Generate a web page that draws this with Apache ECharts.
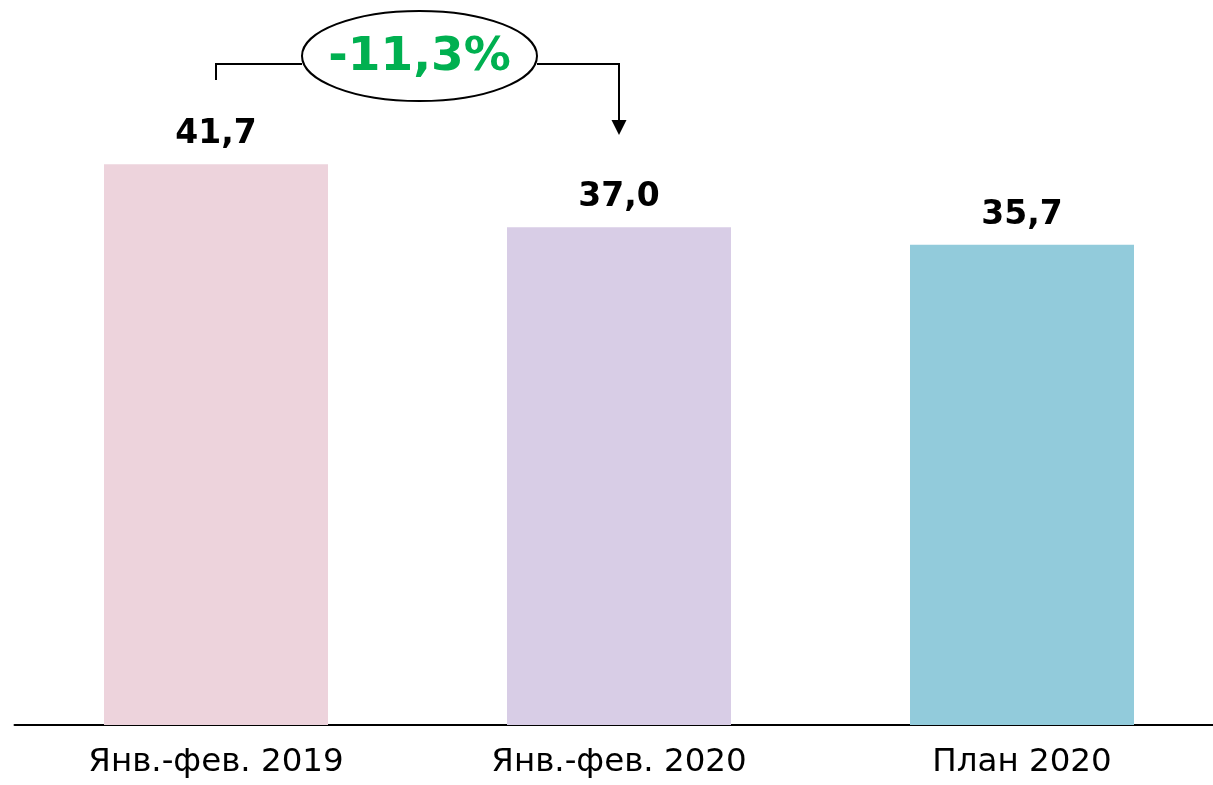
<!DOCTYPE html>
<html>
<head>
<meta charset="utf-8">
<script src="https://cdn.jsdelivr.net/npm/echarts@6/dist/echarts.min.js"></script>
<style>
  html, body { margin: 0; padding: 0; background: #fff; }
  #chart { width: 1213px; height: 785px; }
</style>
</head>
<body>
<div id="chart"></div>
<script>
// Categories, values and bar colours
const categories = ['Янв.-фев. 2019', 'Янв.-фев. 2020', 'План 2020'];
const values = [41.7, 37.0, 35.7];
const barColors = ['#EDD3DC', '#D8CDE6', '#92CBDB'];

const FONT = '"DejaVu Sans", Verdana, sans-serif';
const fmt = v => v.toFixed(1).replace('.', ',');

// Change between the two January–February periods
const change = (values[1] / values[0] - 1) * 100;
const changeText = (change > 0 ? '+' : '') + fmt(change) + '%';

const chart = echarts.init(document.getElementById('chart'), null, { renderer: 'canvas' });

chart.setOption({
  animation: false,
  backgroundColor: '#fff',
  // the plot area runs slightly past the right edge of the canvas
  grid: { left: 14.5, right: -10.5, top: 52.5, bottom: 60, containLabel: false, outerBoundsMode: 'none' },
  xAxis: {
    type: 'category',
    data: categories,
    axisLine: { show: true, lineStyle: { color: '#000', width: 2 } },
    axisTick: { show: false },
    axisLabel: { color: '#000', fontFamily: FONT, fontSize: 32.5, margin: 21 }
  },
  yAxis: {
    type: 'value',
    min: 0,
    max: 50,
    show: false,
    splitLine: { show: false }
  },
  series: [{
    type: 'bar',
    barWidth: 224,
    data: values.map((v, i) => ({ value: v, itemStyle: { color: barColors[i] } })),
    label: {
      show: true,
      position: 'top',
      distance: 13,
      formatter: p => fmt(p.value),
      color: '#000',
      fontFamily: FONT,
      fontWeight: 'bold',
      fontSize: 33
    }
  }]
});

// Bracket with the change badge between the first two bars
const x1 = chart.convertToPixel({ xAxisIndex: 0 }, categories[0]);
const x2 = chart.convertToPixel({ xAxisIndex: 0 }, categories[1]);
const lineY = 64;
const cx = 419.5, cy = 56, rx = 117.5, ry = 45;
const lineStyle = { stroke: '#000', lineWidth: 2, fill: null };

chart.setOption({
  graphic: [
    { type: 'polyline', shape: { points: [[x1, 80], [x1, lineY], [cx - rx, lineY]] }, style: lineStyle },
    { type: 'polyline', shape: { points: [[cx + rx, lineY], [x2, lineY], [x2, 121]] }, style: lineStyle },
    { type: 'polygon', shape: { points: [[x2 - 7.5, 120], [x2 + 7.5, 120], [x2, 135]] }, style: { fill: '#000' } },
    { type: 'ellipse', shape: { cx: cx, cy: cy, rx: rx, ry: ry }, style: { fill: '#fff', stroke: '#000', lineWidth: 2 } },
    {
      type: 'text', x: cx, y: cy + 2,
      style: {
        text: changeText, fill: '#00B050', font: 'bold 47px ' + FONT,
        align: 'center', verticalAlign: 'middle'
      }
    }
  ]
});
</script>
</body>
</html>
